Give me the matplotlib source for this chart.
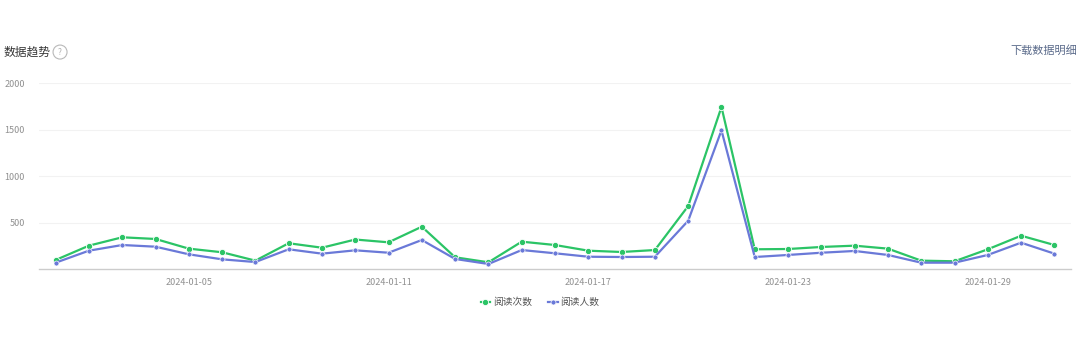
import matplotlib.pyplot as plt
from matplotlib.lines import Line2D

plt.rcParams['font.family'] = ['Noto Sans CJK SC', 'DejaVu Sans']

dates = ['2024-01-%02d' % d for d in range(1, 32)]
reads = [100, 254, 344, 326, 222, 183, 93, 280, 232, 320,
         290, 458, 129, 75, 297, 261, 200, 186, 207, 680,
         1745, 215, 218, 240, 254, 222, 93, 86, 215, 361, 261]
readers = [71, 200, 261, 243, 161, 107, 78, 215, 168, 204,
           178, 315, 111, 57, 207, 172, 135, 132, 135, 522,
           1494, 132, 154, 178, 197, 154, 71, 71, 154, 286, 168]
yticks = [500, 1000, 1500, 2000]

green = '#2bc466'
blue = '#6a79d8'

fig = plt.figure(figsize=(10.8, 3.64), dpi=100)
ax = fig.add_axes([0.0361, 0.2602, 0.9556, 0.511])

x = list(range(len(dates)))
ax.plot(x, reads, color=green, lw=1.6, marker='o', ms=4.5,
        mec='white', mew=0.6, zorder=3)
ax.plot(x, readers, color=blue, lw=1.6, marker='o', ms=3.6,
        mec='white', mew=0.5, zorder=3)

ax.set_xlim(-0.5, len(dates) - 0.5)
ax.set_ylim(0, 2000)
ax.set_yticks(yticks)
ax.set_yticklabels([str(v) for v in yticks])
ax.set_xticks(x[4::6])
ax.set_xticklabels(dates[4::6])
ax.tick_params(length=0, labelsize=6.5, colors='#909090')
ax.tick_params(axis='y', pad=10)
ax.tick_params(axis='x', pad=6)
ax.grid(axis='y', color='#f2f2f2', lw=0.8)
ax.set_axisbelow(True)
for s in ['top', 'right', 'left']:
    ax.spines[s].set_visible(False)
ax.spines['bottom'].set_color('#cccccc')
ax.spines['bottom'].set_linewidth(1.0)

# header
fig.text(0.003, 0.857, '数据趋势', fontsize=8.5, color='#353535', va='center')
fig.text(0.0556, 0.857, '?', fontsize=6, color='#b0b0b0', va='center', ha='center',
         bbox=dict(boxstyle='circle,pad=0.3', fc='white', ec='#b8b8b8', lw=0.8))
fig.text(0.997, 0.862, '下载数据明细', fontsize=8, color='#5a6a8a', va='center', ha='right')

handles = [Line2D([], [], color=green, lw=1.6, marker='o', ms=4.5, mec='white', mew=0.6),
           Line2D([], [], color=blue, lw=1.6, marker='o', ms=3.6, mec='white', mew=0.5)]
fig.legend(handles, ['阅读次数', '阅读人数'], loc='center', bbox_to_anchor=(0.5, 0.17),
           ncol=2, frameon=False, fontsize=7, handlelength=1.0, handletextpad=0.3,
           columnspacing=1.6, labelcolor='#555555')

fig.savefig('out.png', dpi=100)
